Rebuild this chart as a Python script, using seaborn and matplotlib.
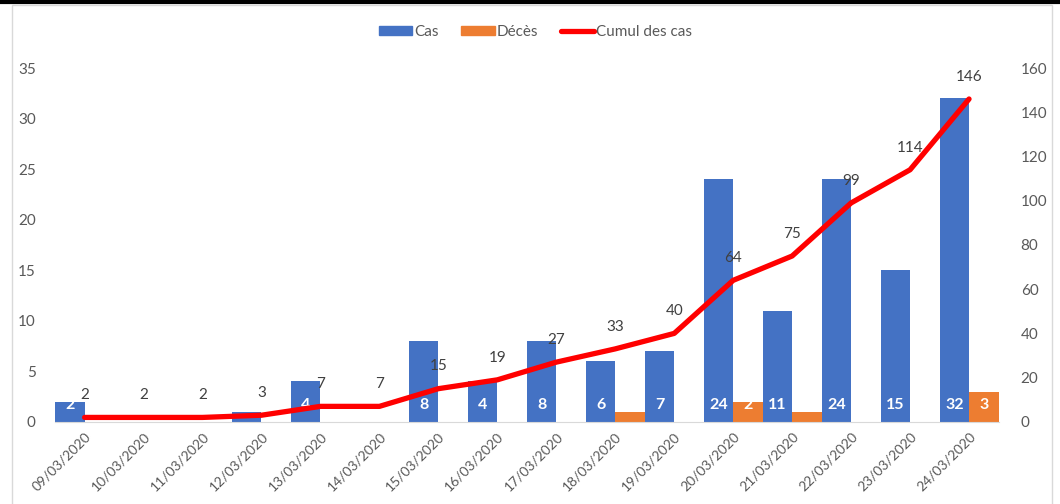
import matplotlib.pyplot as plt
import matplotlib.patches as mpatches
from matplotlib.lines import Line2D
import seaborn as sns
import pandas as pd
import numpy as np

dates = ["09/03/2020", "10/03/2020", "11/03/2020", "12/03/2020", "13/03/2020",
         "14/03/2020", "15/03/2020", "16/03/2020", "17/03/2020", "18/03/2020",
         "19/03/2020", "20/03/2020", "21/03/2020", "22/03/2020", "23/03/2020",
         "24/03/2020"]
cas = [2, 0, 0, 1, 4, 0, 8, 4, 8, 6, 7, 24, 11, 24, 15, 32]
deces = [0, 0, 0, 0, 0, 0, 0, 0, 0, 1, 0, 2, 1, 0, 0, 3]
cumul = [2, 2, 2, 3, 7, 7, 15, 19, 27, 33, 40, 64, 75, 99, 114, 146]

BLUE = "#4472C4"
ORANGE = "#ED7D31"
RED = "#FF0000"
GREY_TXT = "#595959"

sns.set_style("white")
plt.rcParams["font.family"] = ["Lato", "DejaVu Sans"]

df = pd.DataFrame({
    "date": dates * 2,
    "serie": ["Cas"] * len(dates) + ["Décès"] * len(dates),
    "valeur": cas + deces,
})

fig = plt.figure(figsize=(10.6, 5.04), dpi=100)
ax = fig.add_axes([0.052, 0.163, 0.890, 0.702])

sns.barplot(df, x="date", y="valeur", hue="serie", palette=[BLUE, ORANGE],
            saturation=1, width=1, gap=0, linewidth=0, legend=False, ax=ax)

ax.set_xlim(-0.5, len(dates) - 0.5)
ax.set_ylim(0, 35)
ax.set_yticks(range(0, 36, 5))
ax.set_xlabel("")
ax.set_ylabel("")

# white labels at the base of the bars
for cont in ax.containers:
    for p in cont:
        h = p.get_height()
        if h > 0:
            ax.annotate(f"{int(h)}", (p.get_x() + p.get_width() / 2, 0),
                        xytext=(0, 12), textcoords="offset points",
                        ha="center", va="center", color="white",
                        fontsize=11.5, fontweight="bold")

ax2 = ax.twinx()
sns.lineplot(x=np.arange(len(dates)), y=cumul, color=RED, linewidth=3.8,
             ax=ax2, legend=False)
ax2.set_ylim(0, 160)
ax2.set_yticks(range(0, 161, 20))
for i, v in enumerate(cumul):
    ax2.annotate(f"{v}", (i, v), xytext=(0, 16), textcoords="offset points",
                 ha="center", va="center", color="#404040", fontsize=11)

# axis styling
for a in (ax, ax2):
    for s in a.spines.values():
        s.set_visible(False)
ax.spines["bottom"].set_visible(True)
ax.spines["bottom"].set_color("#D9D9D9")
ax.tick_params(axis="y", length=0, pad=14, labelsize=11, labelcolor=GREY_TXT)
ax2.tick_params(axis="y", length=0, pad=16, labelsize=11, labelcolor=GREY_TXT)
ax.set_xticks(range(len(dates)))
ax.set_xticklabels(dates, rotation=45, ha="right", rotation_mode="anchor")
ax.tick_params(axis="x", length=0, pad=6, labelsize=10, labelcolor=GREY_TXT)
ax.set_xticks(np.arange(-0.5, len(dates), 1), minor=True)
ax.tick_params(axis="x", which="minor", length=5, color="#D9D9D9", direction="out")

handles = [mpatches.Patch(color=BLUE, label="Cas"),
           mpatches.Patch(color=ORANGE, label="Décès"),
           Line2D([], [], color=RED, linewidth=3.8, label="Cumul des cas")]
fig.legend(handles=handles, loc="center", bbox_to_anchor=(0.505, 0.937),
           ncol=3, frameon=False, fontsize=11, labelcolor=GREY_TXT,
           handlelength=2.2, handleheight=0.6, columnspacing=1.5,
           handletextpad=0.1)

# chart border and the top dark band
fig.add_artist(mpatches.Rectangle((12 / 1060, -0.01), 1040 / 1060, 1 - 5 / 504 + 0.01,
                                  transform=fig.transFigure, fill=False,
                                  edgecolor="#D9D9D9", linewidth=1))
fig.add_artist(Line2D([0, 1], [1 - 1.5 / 504, 1 - 1.5 / 504],
                      transform=fig.transFigure, color="black", linewidth=3))

fig.savefig("out.png", dpi=100)
